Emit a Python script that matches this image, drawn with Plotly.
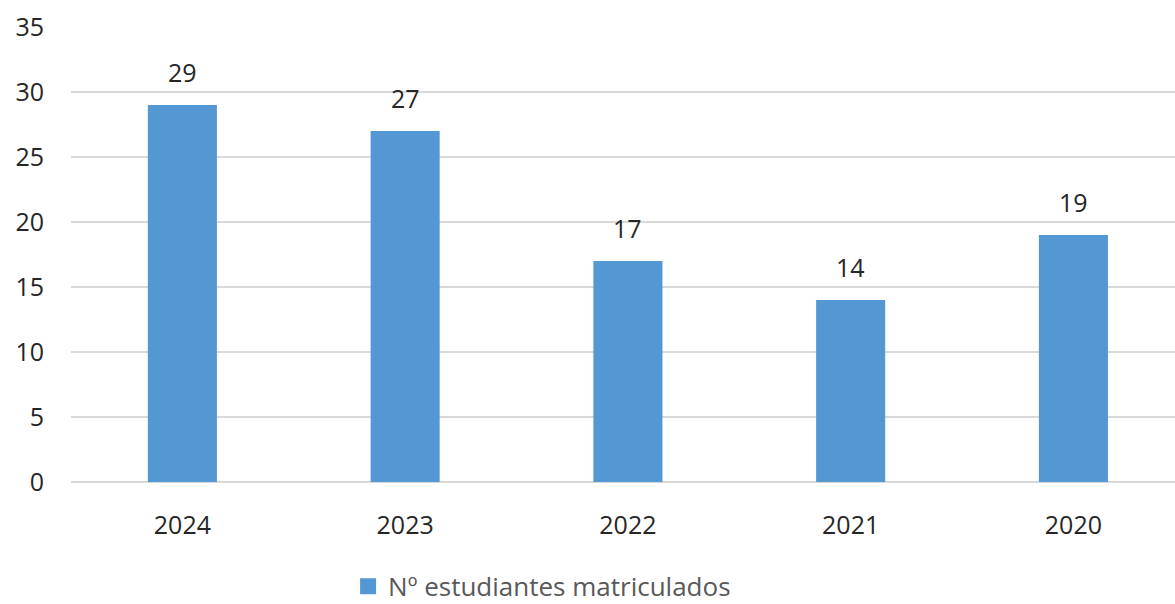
import plotly.graph_objects as go

years = ["2024", "2023", "2022", "2021", "2020"]
students = [29, 27, 17, 14, 19]
series_name = "Nº estudiantes matriculados"
y_ticks = [0, 5, 10, 15, 20, 25, 30, 35]

FONT = "Open Sans"
BAR_COLOR = "#5397d3"

fig = go.Figure()
fig.add_trace(go.Bar(
    x=years, y=students, name=series_name,
    marker=dict(color=BAR_COLOR, line=dict(width=0)),
    width=0.31,
    showlegend=False,
))
# legend-only entry with a larger square swatch
fig.add_trace(go.Scatter(
    x=[None], y=[None], mode="markers", name=series_name,
    marker=dict(symbol="square", size=17, color=BAR_COLOR),
    showlegend=True,
))

for i, v in enumerate(students):
    fig.add_annotation(
        x=i, y=v, text=str(v), showarrow=False,
        yshift=33, xref="x", yref="y",
        font=dict(family=FONT, size=25, color="#262626"),
    )

fig.update_layout(
    width=1175, height=604,
    margin=dict(l=71, r=0, t=27, b=122, autoexpand=False),
    paper_bgcolor="white", plot_bgcolor="white",
    font=dict(family=FONT, size=25, color="#262626"),
    showlegend=True,
    legend=dict(
        orientation="h", x=0.251, xanchor="left", y=-0.281, yanchor="bottom",
        font=dict(family=FONT, size=26, color="#595959"),
        itemwidth=30, bgcolor="rgba(0,0,0,0)",
    ),
)
fig.update_xaxes(
    type="category", range=[-0.5, 4.456], automargin=False,
    showgrid=False, showline=False, zeroline=False,
    ticks="", ticklabelstandoff=26,
    tickfont=dict(family=FONT, size=25, color="#262626"),
)
fig.update_yaxes(
    range=[0, 35], tickvals=y_ticks, automargin=False,
    showgrid=True, gridcolor="#d9d9d9", gridwidth=2,
    zeroline=True, zerolinecolor="#d9d9d9", zerolinewidth=2,
    showline=False, ticks="", ticklabelstandoff=26,
    tickfont=dict(family=FONT, size=25, color="#262626"),
)

post = (
    "document.body.style.margin='0';"
    "var gd=document.getElementById('{plot_id}');"
    "Plotly.relayout(gd,{width:1175,height:604});"
)
fig.write_html("out.html",
               config={"responsive": False, "displayModeBar": False},
               default_width="1175px", default_height="604px",
               post_script=post)
